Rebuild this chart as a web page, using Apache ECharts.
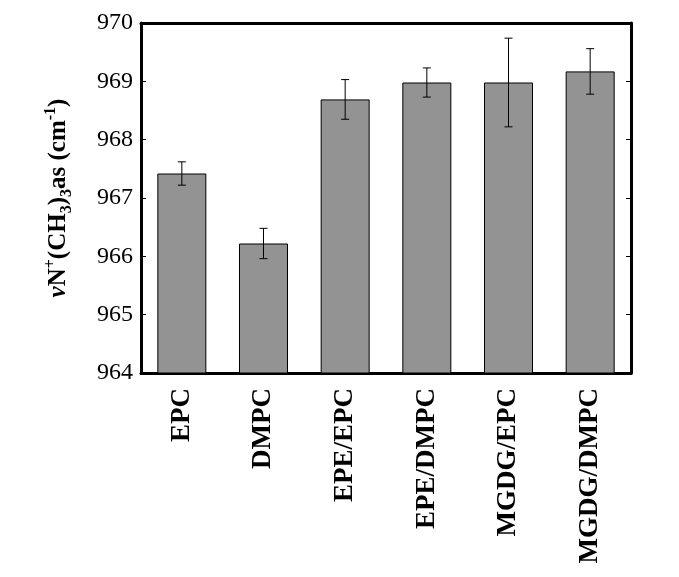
<!DOCTYPE html>
<html>
<head>
<meta charset="utf-8">
<script src="https://cdn.jsdelivr.net/npm/echarts@6/dist/echarts.min.js"></script>
<style>
    html, body { margin: 0; padding: 0; background: #fff; }
</style>
</head>
<body>
<div id="main" style="width: 679px;height: 577px"></div>
<script>
// 数据
const categories = ['EPC', 'DMPC', 'EPE/EPC', 'EPE/DMPC', 'MGDG/EPC', 'MGDG/DMPC']
const values = [967.42, 966.22, 968.69, 968.98, 968.98, 969.17]
const errors = [0.20, 0.26, 0.34, 0.25, 0.76, 0.39]

const serif = 'Liberation Serif'

let errData = []
for (let i = 0; i < categories.length; i++) {
    errData.push([i, values[i] - errors[i], values[i] + errors[i]])
}

const chart = echarts.init(document.getElementById('main'))

const option = {
    backgroundColor: '#fff',
    animation: false,
    grid: { left: 141, right: 48, top: 23, bottom: 204 },
    xAxis: [
        {
            type: 'category',
            data: categories,
            position: 'bottom',
            axisLine: { lineStyle: { color: '#000', width: 3 } },
            axisTick: { inside: true, length: 5, lineStyle: { color: '#000' } },
            axisLabel: {
                rotate: 90, margin: 15,
                fontFamily: serif, fontWeight: 'bold', fontSize: 27, color: '#000'
            }
        },
        {
            type: 'category',
            data: categories,
            position: 'top',
            axisLine: { lineStyle: { color: '#000', width: 3 } },
            axisTick: { inside: true, length: 5, lineStyle: { color: '#000' } },
            axisLabel: { show: false }
        }
    ],
    yAxis: [
        {
            type: 'value',
            min: 964, max: 970, interval: 1,
            position: 'left',
            splitLine: { show: false },
            axisLine: { show: true, lineStyle: { color: '#000', width: 3 } },
            axisTick: { show: true, inside: true, length: 5, lineStyle: { color: '#000' } },
            axisLabel: { margin: 8, fontFamily: serif, fontSize: 24, color: '#000' },
            name: '{i|ν}{b|N}{sup|+}{b|(CH}{sub|3}{b|)}{sub|3}{b|as (cm}{sup|-1}{b|)}',
            nameLocation: 'middle',
            nameGap: 66,
            nameTextStyle: {
                rich: {
                    b: { fontFamily: serif, fontWeight: 'bold', fontSize: 25, color: '#000', lineHeight: 32 },
                    i: { fontFamily: serif, fontWeight: 'bold', fontStyle: 'italic', fontSize: 25, color: '#000', lineHeight: 32 },
                    sup: { fontFamily: serif, fontWeight: 'bold', fontSize: 16, color: '#000', verticalAlign: 'top', lineHeight: 32, padding: [0, 0, 13, 0] },
                    sub: { fontFamily: serif, fontWeight: 'bold', fontSize: 16, color: '#000', verticalAlign: 'bottom', lineHeight: 32, padding: [12, 0, 0, 0] }
                }
            }
        },
        {
            type: 'value',
            min: 964, max: 970, interval: 1,
            position: 'right',
            splitLine: { show: false },
            axisLine: { show: true, lineStyle: { color: '#000', width: 3 } },
            axisTick: { show: true, inside: true, length: 5, lineStyle: { color: '#000' } },
            axisLabel: { show: false }
        }
    ],
    series: [
        {
            type: 'bar',
            data: values,
            barWidth: '60%',
            itemStyle: { color: '#939393', borderColor: '#000', borderWidth: 1 }
        },
        {
            type: 'custom',
            data: errData,
            z: 10,
            renderItem: function (params, api) {
                const x = api.value(0)
                const lo = api.coord([x, api.value(1)])
                const hi = api.coord([x, api.value(2)])
                const w = 4
                const style = { stroke: '#000', lineWidth: 1 }
                return {
                    type: 'group',
                    children: [
                        { type: 'line', shape: { x1: hi[0], y1: hi[1], x2: lo[0], y2: lo[1] }, style: style },
                        { type: 'line', shape: { x1: hi[0] - w, y1: hi[1], x2: hi[0] + w, y2: hi[1] }, style: style },
                        { type: 'line', shape: { x1: lo[0] - w, y1: lo[1], x2: lo[0] + w, y2: lo[1] }, style: style }
                    ]
                }
            }
        }
    ]
}
chart.setOption(option)
</script>
</body>
</html>
